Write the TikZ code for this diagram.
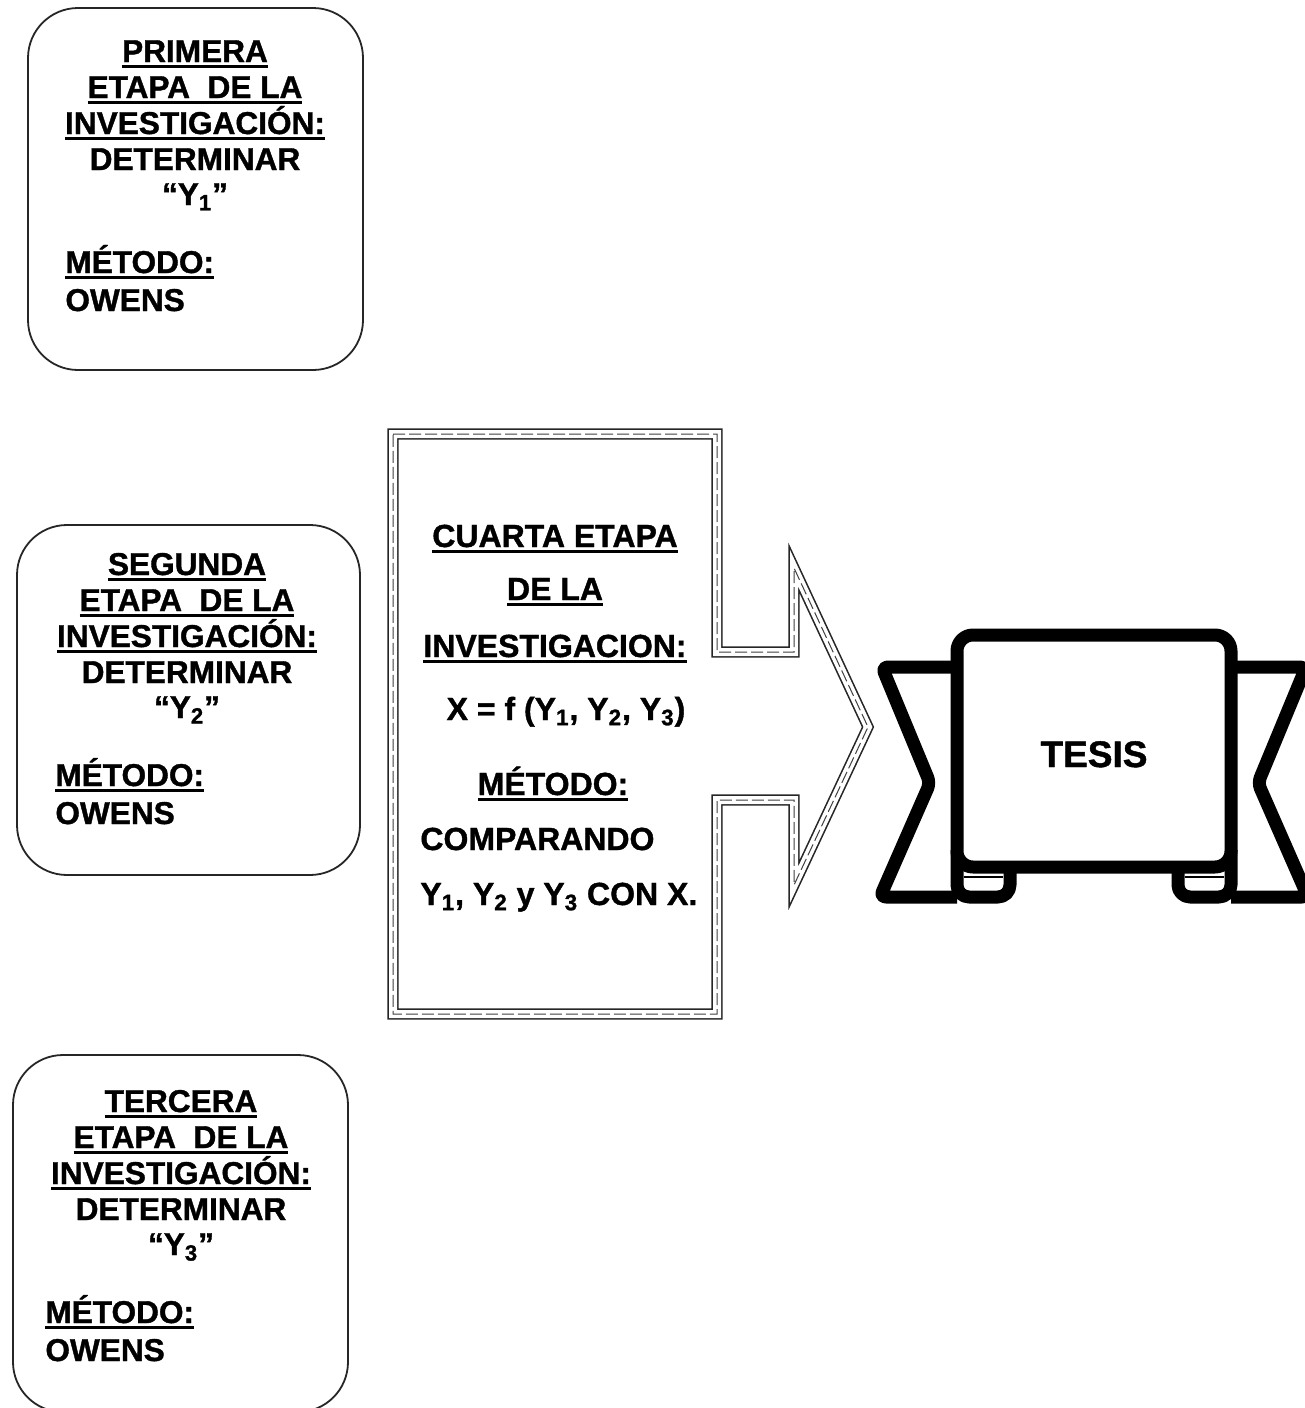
\documentclass[tikz,border=0pt]{standalone}
\usepackage{fontspec}
\setmainfont{Liberation Sans}[BoldFeatures={FakeBold=1.2}]
\usepackage{tikz}
\newcommand{\ulin}[1]{\setbox0=\hbox{#1}\rlap{\vrule height -1.6pt depth 2.9pt width \wd0}\box0}
\tikzset{
  etapa/.style={draw=black!85, line width=0.9pt, rounded corners=25pt},
  linea/.style={font=\fontsize{15.8}{18}\selectfont\bfseries, anchor=base, inner sep=0pt},
  lineac/.style={font=\fontsize{16}{20}\selectfont\bfseries, anchor=base, inner sep=0pt},
  marco/.style={draw=black!85, line width=0.8pt, double=white, double distance=4pt, line join=miter},
  marcoint/.style={draw=black!75, line width=0.5pt, dash pattern=on 6pt off 2pt},
  cinta/.style={draw, line width=6.5pt, fill=white, line join=round}
}

\begin{document}
\begin{tikzpicture}[x=0.5pt,y=-0.5pt]
  \useasboundingbox (0,0) rectangle (1305,1408);
  \clip (0,0) rectangle (1305,1408);
  \foreach \nm/\ord/\k/\xl/\yt/\xr/\yb/\xc/\yf/\xm in
      {uno/PRIMERA/1/28/8/363/370/195/62/65,
       dos/SEGUNDA/2/17/525/360/875/187/575/55,
       tres/TERCERA/3/13/1055/348/1412/181/1112/45}
  {
    \draw[etapa] (\xl,\yt) rectangle (\xr,\yb);
    \node[linea] (\nm1) at (\xc,\yf) {\ulin{\ord}};
    \node[linea] (\nm2) at (\xc,\yf+36) {\ulin{ETAPA\ \ DE LA}};
    \node[linea] (\nm3) at (\xc,\yf+72) {\ulin{INVESTIGACIÓN:}};
    \node[linea] (\nm4) at (\xc,\yf+108) {DETERMINAR};
    \node[linea] (\nm5) at (\xc,\yf+143) {“Y\textsubscript{\k}”};
    \node[linea, anchor=base west] (\nm6) at (\xm,\yf+211) {\ulin{MÉTODO:}};
    \node[linea, anchor=base west] (\nm7) at (\xm,\yf+249) {OWENS};
  }

  \coordinate (f1) at (393,434);
  \coordinate (f2) at (717,434);
  \coordinate (f3) at (717,652);
  \coordinate (f4) at (794,652);
  \coordinate (f5) at (794,568);
  \coordinate (f6) at (868,727);
  \coordinate (f7) at (794,885);
  \coordinate (f8) at (794,800);
  \coordinate (f9) at (717,800);
  \coordinate (f10) at (717,1014);
  \coordinate (f11) at (393,1014);
  \draw[marco] (f1) -- (f2) -- (f3) -- (f4) -- (f5) -- (f6) -- (f7) -- (f8) -- (f9) -- (f10) -- (f11) -- cycle;
  \draw[marcoint] (f1) -- (f2) -- (f3) -- (f4) -- (f5) -- (f6) -- (f7) -- (f8) -- (f9) -- (f10) -- (f11) -- cycle;

  \node[lineac] (c1) at (555,547) {\ulin{CUARTA ETAPA}};
  \node[lineac] (c2) at (555,600) {\ulin{DE LA}};
  \node[lineac] (c3) at (555,657) {\ulin{INVESTIGACION:}};
  \node[lineac] (c4) at (566,720) {X = f (Y\textsubscript{1}, Y\textsubscript{2}, Y\textsubscript{3})};
  \node[lineac] (c5) at (553,795) {\ulin{MÉTODO:}};
  \node[lineac, anchor=base west] (c6) at (420,850) {COMPARANDO};
  \node[lineac, anchor=base west] (c7) at (420,905) {Y\textsubscript{1}, Y\textsubscript{2} y Y\textsubscript{3} CON X.};

  \draw[cinta, rounded corners=3pt] (957,667) -- (882,667) -- (930,783) -- (880,897) -- (957,897);
  \draw[cinta, rounded corners=3pt] (1231,667) -- (1306,667) -- (1258,783) -- (1308,897) -- (1231,897);
  \draw[cinta, rounded corners=6pt] (957,850) -- (957,897) -- (1010,897) -- (1010,850);
  \draw[cinta, rounded corners=6pt] (1231,850) -- (1231,897) -- (1178,897) -- (1178,850);
  \draw[cinta, rounded corners=8pt] (957,635) rectangle (1231,867);
  \draw[line width=0.8pt] (964,877) -- (1003,877);
  \draw[line width=0.8pt] (1185,877) -- (1224,877);
  \node[font=\fontsize{18.5}{22}\selectfont\bfseries, anchor=base, inner sep=0pt] (tesis) at (1094,767) {TESIS};
\end{tikzpicture}
\end{document}
